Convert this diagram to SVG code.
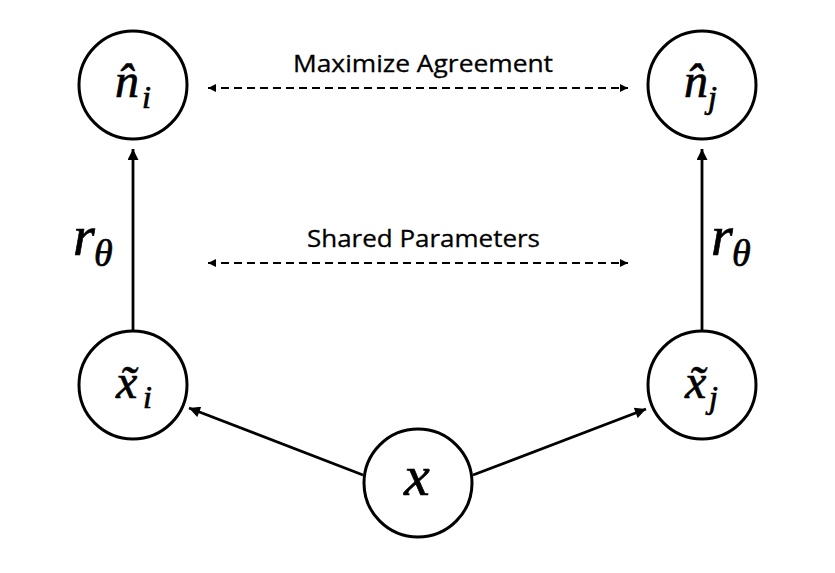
<svg xmlns="http://www.w3.org/2000/svg" width="835" height="573" viewBox="0 0 835 573">
<defs>
<style>
.node{fill:#fff;stroke:#000;stroke-width:3}
.edge{stroke:#000;stroke-width:2.8;fill:none}
.dash{stroke:#000;stroke-width:2.2;fill:none;stroke-dasharray:8 5}
.lbl{font-family:"Open Sans",sans-serif;font-size:24px;fill:#000;stroke:#000;stroke-width:0.3}
.math{font-family:"Liberation Serif","Times New Roman",serif;font-style:italic;fill:#000;stroke:#000;stroke-width:0.7}
</style>
<marker id="ah" viewBox="0 0 10 10" refX="10" refY="5" markerUnits="userSpaceOnUse" markerWidth="12" markerHeight="11" orient="auto-start-reverse">
<path d="M0,0 L10,5 L0,10 z" fill="#000"/>
</marker>
<marker id="ahs" viewBox="0 0 10 10" refX="10" refY="5" markerUnits="userSpaceOnUse" markerWidth="10" markerHeight="8" orient="auto-start-reverse">
<path d="M0,0 L10,5 L0,10 z" fill="#000"/>
</marker>
</defs>
<rect width="835" height="573" fill="#fff"/>
<g id="connectors">
<line class="edge" x1="133" y1="330" x2="133" y2="149" marker-end="url(#ah)"/>
<line class="edge" x1="702" y1="330" x2="702" y2="149" marker-end="url(#ah)"/>
<line class="edge" x1="363" y1="475" x2="189" y2="408" marker-end="url(#ah)"/>
<line class="edge" x1="473" y1="475" x2="646" y2="409" marker-end="url(#ah)"/>
<line class="dash" x1="208" y1="88" x2="628" y2="88" marker-start="url(#ahs)" marker-end="url(#ahs)"/>
<line class="dash" x1="208" y1="263" x2="628" y2="263" marker-start="url(#ahs)" marker-end="url(#ahs)"/>
<text class="lbl" x="423" y="72" text-anchor="middle" textLength="260" lengthAdjust="spacingAndGlyphs">Maximize Agreement</text>
<text class="lbl" x="423.5" y="247" text-anchor="middle" textLength="233" lengthAdjust="spacingAndGlyphs">Shared Parameters</text>
<text class="math" x="73" y="255" font-size="56">r</text>
<text class="math" x="94" y="266" font-size="38">θ</text>
<text class="math" x="711" y="255" font-size="56">r</text>
<text class="math" x="732" y="266" font-size="38">θ</text>
</g>
<g id="n_i">
<circle class="node" cx="133" cy="85" r="54"/>
<text class="math" x="115" y="97" font-size="48">n̂</text>
<text class="math" x="142" y="108" font-size="32">i</text>
</g>
<g id="n_j">
<circle class="node" cx="702" cy="85" r="54"/>
<text class="math" x="684" y="97" font-size="48">n̂</text>
<text class="math" x="708" y="108" font-size="32">j</text>
</g>
<g id="xt_i">
<circle class="node" cx="133" cy="385" r="54"/>
<text class="math" x="116" y="398" font-size="48">x̃</text>
<text class="math" x="143" y="408" font-size="32">i</text>
</g>
<g id="xt_j">
<circle class="node" cx="702" cy="385" r="54"/>
<text class="math" x="685" y="398" font-size="48">x̃</text>
<text class="math" x="709" y="408" font-size="32">j</text>
</g>
<g id="x">
<circle class="node" cx="418" cy="483" r="54"/>
<text class="math" x="404" y="495" font-size="58">x</text>
</g>
</svg>
